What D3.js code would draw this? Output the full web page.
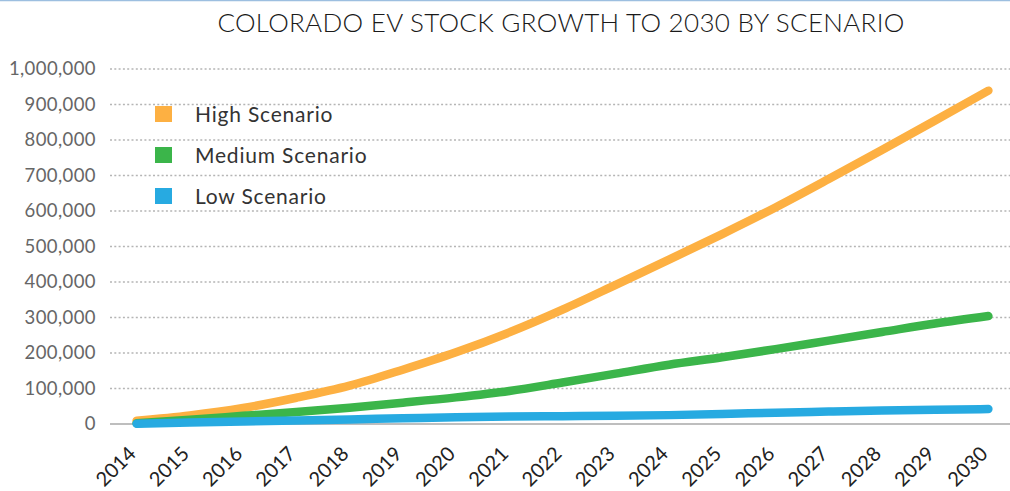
<!DOCTYPE html>
<html>
<head>
<meta charset="utf-8">
<script src="https://cdn.jsdelivr.net/npm/d3@7"></script>
<style>
  html, body { margin: 0; padding: 0; background: #fff; }
  svg { display: block; }
</style>
</head>
<body>
<svg id="chart" width="1010" height="491"></svg>
<script>
// Colorado EV stock projections, 2014-2030
const years = ["2014","2015","2016","2017","2018","2019","2020","2021","2022",
               "2023","2024","2025","2026","2027","2028","2029","2030"];
const highScenario   = [9000, 24000, 45000, 74000, 108000, 153000, 202000, 258000, 322000,
                        392000, 463000, 535000, 610000, 690000, 772000, 855000, 939000];
const mediumScenario = [2000, 12000, 23000, 34000, 46000, 60000, 75000, 93000, 117000,
                        142000, 167000, 188000, 211000, 235000, 259000, 283000, 304000];
const lowScenario    = [1000, 4000, 7000, 10000, 13000, 16000, 19000, 21000, 22000,
                        23000, 25000, 28000, 32000, 35000, 38000, 40000, 42000];
const seriesNames  = ["High Scenario", "Medium Scenario", "Low Scenario"];
const seriesColors = ["#FDB042", "#3BB54A", "#27AAE1"];
const yTicks = [0, 100000, 200000, 300000, 400000, 500000, 600000, 700000, 800000, 900000, 1000000];
const title = "COLORADO EV STOCK GROWTH TO 2030 BY SCENARIO";

const series = [highScenario, mediumScenario, lowScenario];
const svg = d3.select("#chart");
const font = "Lato, 'Open Sans', sans-serif";

const x = d3.scalePoint().domain(years).range([110, 1015]).padding(0.5);
const y = d3.scaleLinear().domain([0, 1000000]).range([424, 69]);

// thin rule along the top edge
svg.append("line").attr("x1", 0).attr("x2", 1010).attr("y1", 0.5).attr("y2", 0.5)
  .attr("stroke", "#9dbfe0").attr("stroke-width", 1.5);

// title
svg.append("text").attr("x", 561).attr("y", 32).attr("text-anchor", "middle")
  .style("font-family", font).style("font-size", "26px").style("font-weight", 300)
  .style("letter-spacing", "0.3px")
  .attr("fill", "#1a1a1a").text(title);

// dotted gridlines
svg.append("g").selectAll("line").data(yTicks.filter(d => d > 0)).join("line")
  .attr("x1", 110).attr("x2", 1010)
  .attr("y1", d => y(d)).attr("y2", d => y(d))
  .attr("stroke", "#b5b5b5").attr("stroke-width", 1.3).attr("stroke-dasharray", "2,2.3");

// baseline
svg.append("line").attr("x1", 110).attr("x2", 1010).attr("y1", y(0)).attr("y2", y(0))
  .attr("stroke", "#a8a8a8").attr("stroke-width", 1.5);

// y axis labels
const yAxis = svg.append("g").attr("transform", "translate(110,0)")
  .call(d3.axisLeft(y).tickValues(yTicks).tickFormat(d3.format(",")).tickSize(0).tickPadding(14));
yAxis.select(".domain").remove();
yAxis.selectAll("text").style("font-family", font).style("font-size", "18.5px")
  .style("letter-spacing", "0.4px").attr("fill", "#666");

// x axis labels, rotated
const xAxis = svg.append("g").attr("transform", "translate(0,424)")
  .call(d3.axisBottom(x).tickSize(0).tickPadding(0));
xAxis.select(".domain").remove();
xAxis.selectAll("text")
  .style("font-family", font).style("font-size", "20px").attr("fill", "#222")
  .attr("text-anchor", "end").attr("dy", null).attr("y", 0)
  .attr("transform", "translate(0,31) rotate(-45)");

// scenario lines
const line = d3.line().x((d, i) => x(years[i])).y(d => y(d)).curve(d3.curveMonotoneX);
svg.append("g").selectAll("path").data(series).join("path")
  .attr("d", d => line(d)).attr("fill", "none")
  .attr("stroke", (d, i) => seriesColors[i]).attr("stroke-width", 8.5)
  .attr("stroke-linecap", "round").attr("stroke-linejoin", "round");

// legend
const legend = svg.append("g").selectAll("g").data(seriesNames).join("g")
  .attr("transform", (d, i) => `translate(155,${106 + i * 41})`);
legend.append("rect").attr("width", 17).attr("height", 16)
  .attr("fill", (d, i) => seriesColors[i]);
legend.append("text").attr("x", 40).attr("y", 15.5)
  .style("font-family", font).style("font-size", "21px").style("letter-spacing", "0.8px")
  .attr("fill", "#333")
  .text(d => d);
</script>
</body>
</html>
